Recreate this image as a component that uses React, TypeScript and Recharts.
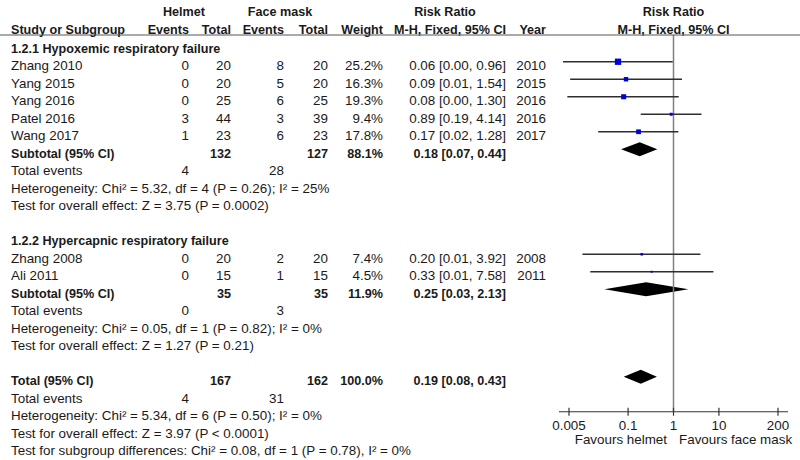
import { ScatterChart, Scatter, XAxis, YAxis, ReferenceLine, ReferenceArea, ReferenceDot } from 'recharts'

const FONT = 'Arial, "Liberation Sans", sans-serif'
const INK = '#1a1a1a'

// studies
const studyNames = ['Zhang 2010', 'Yang 2015', 'Yang 2016', 'Patel 2016', 'Wang 2017', 'Zhang 2008', 'Ali 2011']
const studyGroup = [0, 0, 0, 0, 0, 1, 1]
const helmetEvents = [0, 0, 0, 3, 1, 0, 0]
const helmetTotal = [20, 20, 25, 44, 23, 20, 15]
const maskEvents = [8, 5, 6, 3, 6, 2, 1]
const maskTotal = [20, 20, 25, 39, 23, 20, 15]
const weights = [25.2, 16.3, 19.3, 9.4, 17.8, 7.4, 4.5]
const riskRatio = [0.06, 0.09, 0.08, 0.89, 0.17, 0.2, 0.33]
const ciLower = [0.0037, 0.0053, 0.0046, 0.19, 0.022, 0.0099, 0.0147]
const ciUpper = [0.96, 1.54, 1.3, 4.14, 1.28, 3.92, 7.58]
const years = [2010, 2015, 2016, 2016, 2017, 2008, 2011]

// subgroups
const groupTitles = ['1.2.1 Hypoxemic respiratory failure', '1.2.2 Hypercapnic respiratory failure']
const groupHelmetTotal = [132, 35]
const groupMaskTotal = [127, 35]
const groupWeight = [88.1, 11.9]
const groupRR = [0.18, 0.25]
const groupLower = [0.07, 0.03]
const groupUpper = [0.44, 2.13]
const groupHelmetEvents = [4, 0]
const groupMaskEvents = [28, 3]
const groupHeterogeneity = [
  'Heterogeneity: Chi² = 5.32, df = 4 (P = 0.26); I² = 25%',
  'Heterogeneity: Chi² = 0.05, df = 1 (P = 0.82); I² = 0%',
]
const groupEffect = ['Test for overall effect: Z = 3.75 (P = 0.0002)', 'Test for overall effect: Z = 1.27 (P = 0.21)']

// overall
const totalHelmetTotal = 167
const totalMaskTotal = 162
const totalWeight = 100.0
const totalRR = 0.19
const totalLower = 0.08
const totalUpper = 0.43
const totalHelmetEvents = 4
const totalMaskEvents = 31
const totalNotes = [
  'Heterogeneity: Chi² = 5.34, df = 6 (P = 0.50); I² = 0%',
  'Test for overall effect: Z = 3.97 (P < 0.0001)',
  'Test for subgroup differences: Chi² = 0.08, df = 1 (P = 0.78), I² = 0%',
]

const axisTicks = [0.005, 0.1, 1, 10, 200]
const axisTickLabels = ['0.005', '0.1', '1', '10', '200']

const X_DOMAIN = [1 / 332, 332]
const AXIS_ROW = 21
const RULE_ROW = -0.53
const FS = 13.4
const FS_BOLD = 12.6

const ci = (rr: number, lo: number, hi: number) => `${rr.toFixed(2)} [${lo.toFixed(2)}, ${hi.toFixed(2)}]`

type Row = { x: number; y: number; kind: string; [k: string]: any }

const rows: Row[] = [
  { x: 1, y: -2.1, kind: 'head1' },
  { x: 1, y: -1.1, kind: 'head2' },
]
const squares: { x: number; y: number; w: number }[] = []
const ciLines: { lo: number; hi: number; y: number }[] = []
const diamonds: { rr: number; lo: number; hi: number; y: number }[] = []

let r = 0
groupTitles.forEach((title, g) => {
  rows.push({ x: 1, y: r++, kind: 'group', label: title })
  studyNames.forEach((name, i) => {
    if (studyGroup[i] !== g) return
    squares.push({ x: riskRatio[i], y: r, w: weights[i] })
    ciLines.push({ lo: ciLower[i], hi: ciUpper[i], y: r })
    rows.push({
      x: 1, y: r++, kind: 'study', label: name,
      he: helmetEvents[i], ht: helmetTotal[i], me: maskEvents[i], mt: maskTotal[i],
      wt: `${weights[i].toFixed(1)}%`, ci: ci(riskRatio[i], ciLower[i], ciUpper[i]), year: years[i],
    })
  })
  diamonds.push({ rr: groupRR[g], lo: groupLower[g], hi: groupUpper[g], y: r })
  rows.push({
    x: 1, y: r++, kind: 'subtotal', label: 'Subtotal (95% CI)',
    ht: groupHelmetTotal[g], mt: groupMaskTotal[g], wt: `${groupWeight[g].toFixed(1)}%`,
    ci: ci(groupRR[g], groupLower[g], groupUpper[g]),
  })
  rows.push({ x: 1, y: r++, kind: 'events', he: groupHelmetEvents[g], me: groupMaskEvents[g] })
  rows.push({ x: 1, y: r++, kind: 'note', label: groupHeterogeneity[g] })
  rows.push({ x: 1, y: r++, kind: 'note', label: groupEffect[g] })
  r++
})
diamonds.push({ rr: totalRR, lo: totalLower, hi: totalUpper, y: r })
rows.push({
  x: 1, y: r++, kind: 'subtotal', label: 'Total (95% CI)',
  ht: totalHelmetTotal, mt: totalMaskTotal, wt: `${totalWeight.toFixed(1)}%`, ci: ci(totalRR, totalLower, totalUpper),
})
rows.push({ x: 1, y: r++, kind: 'events', he: totalHelmetEvents, me: totalMaskEvents })
totalNotes.forEach((t) => rows.push({ x: 1, y: r++, kind: 'note', label: t }))

const T = (x: number, y: number, s: any, anchor = 'end', bold = false) => (
  <text
    x={x}
    y={y}
    textAnchor={anchor}
    fontSize={bold ? FS_BOLD : FS}
    fontFamily={FONT}
    fill={INK}
    fontWeight={bold ? 'bold' : 'normal'}
  >
    {s}
  </text>
)

function RowText(props: any) {
  const { cx, cy, payload: p } = props
  const b = cy + 8.5
  if (p.kind === 'head1')
    return (
      <g>
        {T(184, b, 'Helmet', 'middle', true)}
        {T(280, b, 'Face mask', 'middle', true)}
        {T(445, b, 'Risk Ratio', 'middle', true)}
        {T(cx, b, 'Risk Ratio', 'middle', true)}
      </g>
    )
  if (p.kind === 'head2')
    return (
      <g>
        {T(11, b, 'Study or Subgroup', 'start', true)}
        {T(189, b, 'Events', 'end', true)}
        {T(231, b, 'Total', 'end', true)}
        {T(284, b, 'Events', 'end', true)}
        {T(328, b, 'Total', 'end', true)}
        {T(383, b, 'Weight', 'end', true)}
        {T(506, b, 'M-H, Fixed, 95% CI', 'end', true)}
        {T(546, b, 'Year', 'end', true)}
        {T(cx, b, 'M-H, Fixed, 95% CI', 'middle', true)}
        <line x1={0} x2={800} y1={cy + 10} y2={cy + 10} stroke="#555" strokeWidth={1} />
      </g>
    )
  if (p.kind === 'group') return T(11, b, p.label, 'start', true)
  if (p.kind === 'note') return T(11, b, p.label, 'start')
  if (p.kind === 'events')
    return (
      <g>
        {T(11, b, 'Total events', 'start')}
        {T(189, b, p.he)}
        {T(284, b, p.me)}
      </g>
    )
  if (p.kind === 'subtotal')
    return (
      <g>
        {T(11, b, p.label, 'start', true)}
        {T(231, b, p.ht, 'end', true)}
        {T(328, b, p.mt, 'end', true)}
        {T(383, b, p.wt, 'end', true)}
        {T(506, b, p.ci, 'end', true)}
      </g>
    )
  return (
    <g>
      {T(11, b, p.label, 'start')}
      {T(189, b, p.he)}
      {T(231, b, p.ht)}
      {T(284, b, p.me)}
      {T(328, b, p.mt)}
      {T(383, b, p.wt)}
      {T(506, b, p.ci)}
      {T(546, b, p.year)}
    </g>
  )
}

function Square(props: any) {
  const { cx, cy, payload } = props
  const s = 1 + 0.21 * payload.w
  return <rect x={cx - s / 2} y={cy - s / 2} width={s} height={s} fill="#0000dd" />
}

const diamondShape = (d: { rr: number; lo: number; hi: number }) => (props: any) => {
  const { x, y, width, height } = props
  const t = Math.log(d.rr / d.lo) / Math.log(d.hi / d.lo)
  const mx = x + t * width
  const my = y + height / 2
  return <polygon points={`${x},${my} ${mx},${y} ${x + width},${my} ${mx},${y + height}`} fill="#000" />
}

const tickShape = (label: string) => (props: any) => {
  const { cx, cy } = props
  return (
    <g>
      <line x1={cx} x2={cx} y1={cy - 4} y2={cy + 4} stroke="#333" strokeWidth={1.2} />
      {T(cx, cy + 18.5, label, 'middle')}
    </g>
  )
}

const favoursShape = (props: any) => {
  const { cx, cy } = props
  return (
    <g>
      {T(cx - 6.5, cy + 32.5, 'Favours helmet', 'end')}
      {T(cx + 5.5, cy + 32.5, 'Favours face mask', 'start')}
    </g>
  )
}

export default function App() {
  return (
    <div style={{ position: 'absolute', left: 0, top: 0, width: 800, height: 460, background: '#fff' }}>
      <ScatterChart width={800} height={460} margin={{ top: 0.5, right: 12, bottom: 4.5, left: 559 }}>
        <XAxis type="number" dataKey="x" scale="log" domain={X_DOMAIN} hide />
        <YAxis type="number" dataKey="y" domain={[-2.5, 23.5]} reversed hide />
        <ReferenceLine
          segment={[{ x: 1, y: RULE_ROW }, { x: 1, y: AXIS_ROW }]}
          stroke="#808080"
          strokeWidth={1.5}
          ifOverflow="visible"
        />
        {ciLines.map((c, i) => (
          <ReferenceLine
            key={'ci' + i}
            segment={[{ x: c.lo, y: c.y }, { x: c.hi, y: c.y }]}
            stroke="#2e2e2e"
            strokeWidth={1.4}
            ifOverflow="visible"
          />
        ))}
        {diamonds.map((d, i) => (
          <ReferenceArea
            key={'dm' + i}
            x1={d.lo}
            x2={d.hi}
            y1={d.y - 0.4}
            y2={d.y + 0.4}
            ifOverflow="visible"
            shape={diamondShape(d)}
          />
        ))}
        <ReferenceLine
          segment={[{ x: X_DOMAIN[0], y: AXIS_ROW }, { x: X_DOMAIN[1], y: AXIS_ROW }]}
          stroke="#333"
          strokeWidth={1.2}
          ifOverflow="visible"
        />
        {axisTicks.map((t, i) => (
          <ReferenceDot key={'tk' + i} x={t} y={AXIS_ROW} r={0} ifOverflow="visible" shape={tickShape(axisTickLabels[i])} />
        ))}
        <ReferenceDot x={1} y={AXIS_ROW} r={0} ifOverflow="visible" shape={favoursShape} />
        <Scatter data={rows} shape={RowText} isAnimationActive={false} />
        <Scatter data={squares} shape={Square} isAnimationActive={false} />
      </ScatterChart>
    </div>
  )
}
